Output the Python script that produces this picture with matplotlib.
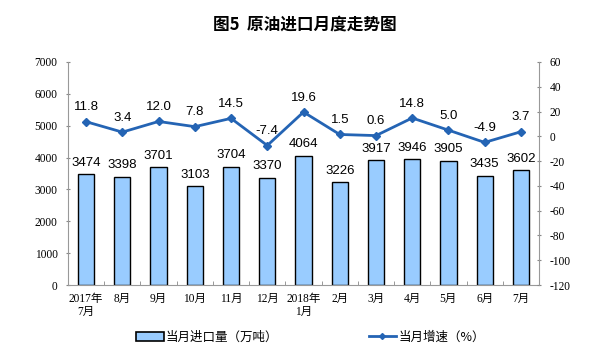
import matplotlib
matplotlib.use("Agg")
import matplotlib.pyplot as plt
from matplotlib.lines import Line2D
from matplotlib.patches import Patch

plt.rcParams['font.family'] = ['Liberation Serif', 'Noto Sans CJK SC']
plt.rcParams['axes.unicode_minus'] = False

categories = ["2017年\n7月", "8月", "9月", "10月", "11月", "12月", "2018年\n1月",
              "2月", "3月", "4月", "5月", "6月", "7月"]
imports = [3474, 3398, 3701, 3103, 3704, 3370, 4064, 3226, 3917, 3946, 3905, 3435, 3602]
growth = [11.8, 3.4, 12.0, 7.8, 14.5, -7.4, 19.6, 1.5, 0.6, 14.8, 5.0, -4.9, 3.7]
growth_labels = ["11.8", "3.4", "12.0", "7.8", "14.5", "-7.4", "19.6", "1.5", "0.6", "14.8", "5.0", "-4.9", "3.7"]

fig = plt.figure(figsize=(6.09, 3.6), dpi=100)
ax = fig.add_axes([68/609, 1-285/360, (539-68)/609, (285-62)/360])
ax2 = ax.twinx()

x = list(range(len(categories)))
bar_color = '#99CCFF'
line_color = '#2464B4'

ax.bar(x, imports, width=0.45, color=bar_color, edgecolor='black', linewidth=1.0, zorder=2)
for xi, v in zip(x, imports):
    ax.annotate(str(v), (xi, v), xytext=(0, 4), textcoords='offset points',
                ha='center', va='bottom', fontsize=9.5, family=['Liberation Sans'])

ax.set_xlim(-0.5, len(categories) - 0.5)
ax.set_ylim(0, 7000)
ax.set_yticks(range(0, 7001, 1000))
ax.set_xticks(x)
ax.set_xticklabels(categories, fontsize=8.3, linespacing=1.1)
ax.set_xticks([i + 0.5 for i in range(len(categories) - 1)], minor=True)
ax.tick_params(axis='x', which='major', length=0, pad=6)
ax.tick_params(axis='x', which='minor', length=3, direction='in', color='#888888')
ax.tick_params(axis='y', labelsize=8.3, length=3, direction='inout', color='#888888', pad=6)

ax2.plot(x, growth, color=line_color, linewidth=2, marker='D', markersize=4, zorder=3)
for xi, v, lab in zip(x, growth, growth_labels):
    ax2.annotate(lab, (xi, v), xytext=(0, 6), textcoords='offset points',
                 ha='center', va='bottom', fontsize=9.5, family=['Liberation Sans'])
ax2.set_ylim(-120, 60)
ax2.set_yticks(range(-120, 61, 20))
ax2.tick_params(axis='y', labelsize=8.3, length=3, direction='inout', color='#888888', pad=6)

for a in (ax, ax2):
    a.spines['top'].set_visible(False)
    a.spines['left'].set_color('#999999')
    a.spines['right'].set_color('#999999')
    a.spines['bottom'].set_color('#999999')
ax.spines['right'].set_visible(False)
ax2.spines['left'].set_visible(False)
ax2.spines['bottom'].set_visible(False)

fig.text(0.5, 1-25/360, "图5  原油进口月度走势图", ha='center', va='center',
         fontsize=12, fontweight='bold', family=['Noto Sans CJK SC'])

handles = [Patch(facecolor=bar_color, edgecolor='black', linewidth=1.2),
           Line2D([0], [0], color=line_color, linewidth=2, marker='D', markersize=3)]
labels = ["当月进口量（万吨）", "当月增速（%）"]
fig.legend(handles, labels, loc='center left', bbox_to_anchor=(136/609, 1-337/360), ncol=2,
           frameon=False, columnspacing=7.2, handlelength=2.2, handletextpad=0.2,
           borderaxespad=0, borderpad=0,
           prop={'family': ['Noto Sans CJK SC'], 'size': 9})

fig.savefig("out.png", dpi=100)
